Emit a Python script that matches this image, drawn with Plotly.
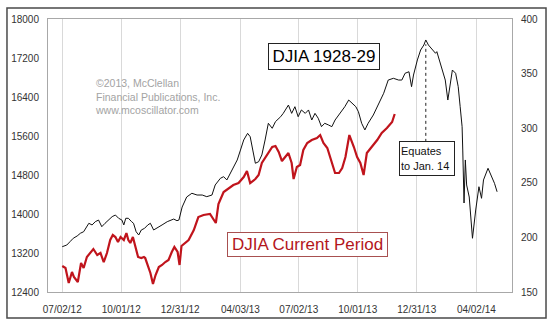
import plotly.graph_objects as go

# DJIA, current period (left axis)
cur_dates = ["2012-07-02","2012-07-07","2012-07-12","2012-07-17","2012-07-20","2012-07-26","2012-07-31","2012-08-04","2012-08-09","2012-08-14",
             "2012-08-19","2012-08-25","2012-08-30","2012-09-04","2012-09-09","2012-09-14","2012-09-18","2012-09-22","2012-09-26","2012-09-30",
             "2012-10-05","2012-10-09","2012-10-12","2012-10-15","2012-10-19","2012-10-23","2012-10-27","2012-11-01","2012-11-05","2012-11-07",
             "2012-11-11","2012-11-15","2012-11-19","2012-11-23","2012-11-28","2012-12-03","2012-12-08","2012-12-13","2012-12-18","2012-12-22",
             "2012-12-27","2012-12-30","2013-01-02","2013-01-08","2013-01-13","2013-01-21","2013-01-28","2013-02-05","2013-02-15","2013-02-24",
             "2013-02-28","2013-03-08","2013-03-16","2013-03-23","2013-03-31","2013-04-08","2013-04-13","2013-04-18","2013-04-26","2013-05-01",
             "2013-05-06","2013-05-14","2013-05-22","2013-05-27","2013-06-01","2013-06-06","2013-06-11","2013-06-16","2013-06-21","2013-06-24",
             "2013-06-29","2013-07-04","2013-07-09","2013-07-15","2013-07-22","2013-07-30","2013-08-04","2013-08-09","2013-08-15","2013-08-22",
             "2013-08-27","2013-09-02","2013-09-07","2013-09-12","2013-09-18","2013-09-25","2013-09-30","2013-10-05","2013-10-10","2013-10-15",
             "2013-10-23","2013-10-31","2013-11-07","2013-11-15","2013-11-23","2013-11-27"]
cur_values = [12933,12892,12585,12810,12708,12605,12995,12892,13118,13200,
              13282,13159,13200,13015,13200,13467,13569,13528,13426,13528,
              13467,13610,13467,13405,13528,13323,13118,13097,13118,13097,
              12954,12790,12564,12749,12913,12954,13015,13056,13220,13323,
              13220,12954,13344,13405,13467,13672,13938,13979,14000,13815,
              14205,14451,14533,14595,14636,14759,14882,14636,14718,14800,
              15046,15210,15374,15395,15272,15087,15169,15251,15046,14718,
              14964,15005,15313,15456,15518,15559,15620,15456,15354,15046,
              14841,14841,14944,15169,15620,15374,15169,15046,14800,15251,
              15374,15518,15662,15764,15887,16051]

# DJIA 1928-29, shifted onto the current calendar (right axis)
old_dates = ["2012-07-02","2012-07-09","2012-07-14","2012-07-19","2012-07-25","2012-07-30","2012-08-04","2012-08-09","2012-08-12","2012-08-17",
             "2012-08-22","2012-08-27","2012-09-01","2012-09-06","2012-09-12","2012-09-17","2012-09-22","2012-09-27","2012-10-02","2012-10-05",
             "2012-10-08","2012-10-12","2012-10-17","2012-10-20","2012-10-24","2012-10-28","2012-11-01","2012-11-06","2012-11-11","2012-11-15",
             "2012-11-20","2012-11-25","2012-12-03","2012-12-11","2012-12-16","2012-12-21","2012-12-26","2012-12-29","2013-01-03","2013-01-10",
             "2013-01-18","2013-01-26","2013-02-03","2013-02-10","2013-02-18","2013-02-23","2013-03-03","2013-03-08","2013-03-13","2013-03-21",
             "2013-03-29","2013-04-03","2013-04-08","2013-04-14","2013-04-18","2013-04-22","2013-04-26","2013-05-01","2013-05-06","2013-05-11",
             "2013-05-16","2013-05-22","2013-05-27","2013-06-04","2013-06-08","2013-06-16","2013-06-21","2013-06-26","2013-07-01","2013-07-06",
             "2013-07-12","2013-07-17","2013-07-22","2013-07-27","2013-08-01","2013-08-06","2013-08-11","2013-08-17","2013-08-22","2013-08-27",
             "2013-09-04","2013-09-11","2013-09-17","2013-09-23","2013-09-28","2013-10-02","2013-10-07","2013-10-12","2013-10-17","2013-10-25",
             "2013-11-02","2013-11-10","2013-11-17","2013-11-25","2013-12-03","2013-12-08","2013-12-13","2013-12-19","2013-12-23","2013-12-26",
             "2014-01-01","2014-01-06","2014-01-11","2014-01-14","2014-01-18","2014-01-24","2014-01-29","2014-01-31","2014-02-03","2014-02-08",
             "2014-02-13","2014-02-17","2014-02-20","2014-02-24","2014-03-01","2014-03-05","2014-03-08","2014-03-11","2014-03-12","2014-03-13",
             "2014-03-14","2014-03-16","2014-03-18","2014-03-22","2014-03-27","2014-04-01","2014-04-06","2014-04-10","2014-04-13","2014-04-20",
             "2014-04-26","2014-04-30","2014-05-04"]
old_values = [191.5,193.0,196.1,199.2,201.3,203.8,205.2,209.8,212.9,211.4,
              214.4,215.9,209.8,212.9,215.9,219.0,220.5,217.5,215.9,211.4,
              217.5,217.5,214.4,212.9,205.2,202.2,206.8,208.3,211.4,212.9,
              206.8,208.3,211.4,214.4,215.9,216.8,215.3,215.9,227.8,237.0,
              240.4,238.8,238.8,237.3,238.8,248.0,254.1,255.6,252.6,261.7,
              270.9,280.0,289.2,295.3,292.2,280.0,267.9,269.3,275.5,289.2,
              304.5,299.9,306.0,310.5,313.6,321.2,313.6,319.7,310.5,316.7,
              313.6,316.7,307.5,313.6,309.1,301.4,304.5,302.9,301.4,307.5,
              313.6,319.7,325.8,322.8,319.7,315.1,304.5,298.4,304.5,312.1,
              322.8,332.0,344.1,345.7,344.1,344.1,350.3,351.7,338.0,348.7,
              362.5,371.6,376.2,380.8,376.2,371.6,368.6,370.1,364.0,353.3,
              344.1,325.8,338.0,353.3,350.3,338.0,319.7,301.4,280.0,261.7,
              231.5,270.9,248.0,237.0,199.2,225.1,246.4,235.8,252.6,263.3,
              255.6,249.5,241.8]
assert len(cur_dates) == len(cur_values)
assert len(old_dates) == len(old_values)

tick_dates = ["2012-07-02","2012-10-01","2012-12-31","2013-04-03","2013-07-02","2013-10-01","2013-12-31","2014-04-02"]
tick_labels = ["07/02/12","10/01/12","12/31/12","04/03/13","07/02/13","10/01/13","12/31/13","04/02/14"]
left_ticks = [12400,13200,14000,14800,15600,16400,17200,18000]
right_ticks = [150,200,250,300,350,400]

peak_date = "2014-01-14"
peak_value = 380.8
dash_bottom = 287.5

FONT = "Arial, Liberation Sans, sans-serif"
RED = "#c0141c"

fig = go.Figure()
fig.add_trace(go.Scatter(x=old_dates, y=old_values, mode="lines", yaxis="y2",
                         line=dict(color="#111111", width=1), hoverinfo="skip"))
fig.add_trace(go.Scatter(x=cur_dates, y=cur_values, mode="lines", yaxis="y",
                         line=dict(color=RED, width=2.2), hoverinfo="skip"))

# dashed marker from the 1928-29 peak down to its note
fig.add_shape(type="line", xref="x", yref="y2", x0=peak_date, x1=peak_date,
              y0=dash_bottom, y1=peak_value - 4,
              line=dict(color="#222222", width=1, dash="dot"))

# outer frame around the whole chart
fig.add_shape(type="rect", xref="paper", yref="paper",
              x0=-0.0884, x1=1.0733, y0=-0.0952, y1=1.0403,
              line=dict(color="#4a4a4a", width=1.5), fillcolor="rgba(0,0,0,0)", layer="above")

fig.add_annotation(xref="paper", yref="paper", x=0.5938, y=0.8626, xanchor="center", yanchor="middle",
                   text="DJIA 1928-29", showarrow=False, width=110, height=25,
                   font=dict(family=FONT, size=17, color="#000000"),
                   bgcolor="white", bordercolor="#222222", borderwidth=1, borderpad=0)
fig.add_annotation(xref="paper", yref="paper", x=0.5582, y=0.174, xanchor="center", yanchor="middle",
                   text="DJIA Current Period", showarrow=False, width=159, height=23,
                   font=dict(family=FONT, size=17, color="#b3161c"),
                   bgcolor="white", bordercolor="#a85050", borderwidth=1, borderpad=0)
fig.add_annotation(xref="paper", yref="paper", x=0.8168, y=0.4872, xanchor="center", yanchor="middle",
                   text="Equates<br>to Jan. 14", showarrow=False, width=52, height=31, align="left",
                   font=dict(family=FONT, size=11, color="#111111"),
                   bgcolor="white", bordercolor="#222222", borderwidth=1, borderpad=1)
fig.add_annotation(xref="paper", yref="paper", x=0.097, y=0.795, xanchor="left", yanchor="top",
                   text="©2013, McClellan<br>Financial Publications, Inc.<br>www.mcoscillator.com",
                   showarrow=False, align="left",
                   font=dict(family=FONT, size=10.5, color="#a3a3a3"))

fig.update_layout(
    width=558, height=329, autosize=False,
    margin=dict(l=48, r=46, t=19, b=37),
    paper_bgcolor="white", plot_bgcolor="white",
    showlegend=False,
    font=dict(family=FONT, size=10, color="#333333"),
    xaxis=dict(type="date", range=["2012-06-10", "2014-05-27"],
               tickvals=tick_dates, ticktext=tick_labels,
               showgrid=True, gridcolor="#d9d9d9", gridwidth=1,
               showline=True, linecolor="#a8a8a8", linewidth=1, mirror=True,
               ticks="", ticklabelstandoff=8, zeroline=False,
               tickfont=dict(family=FONT, size=10, color="#333333")),
    yaxis=dict(range=[12400, 18000], tickvals=left_ticks, tickformat="d",
               showgrid=False, showline=True, linecolor="#a8a8a8", linewidth=1,
               ticks="", ticklabelstandoff=6, zeroline=False,
               tickfont=dict(family=FONT, size=10, color="#333333")),
    yaxis2=dict(range=[150, 400], tickvals=right_ticks, tickformat="d", overlaying="y", side="right",
                showgrid=False, showline=True, linecolor="#a8a8a8", linewidth=1,
                ticks="", ticklabelstandoff=6, zeroline=False,
                tickfont=dict(family=FONT, size=10, color="#333333")),
)

fig.write_html("out.html")
